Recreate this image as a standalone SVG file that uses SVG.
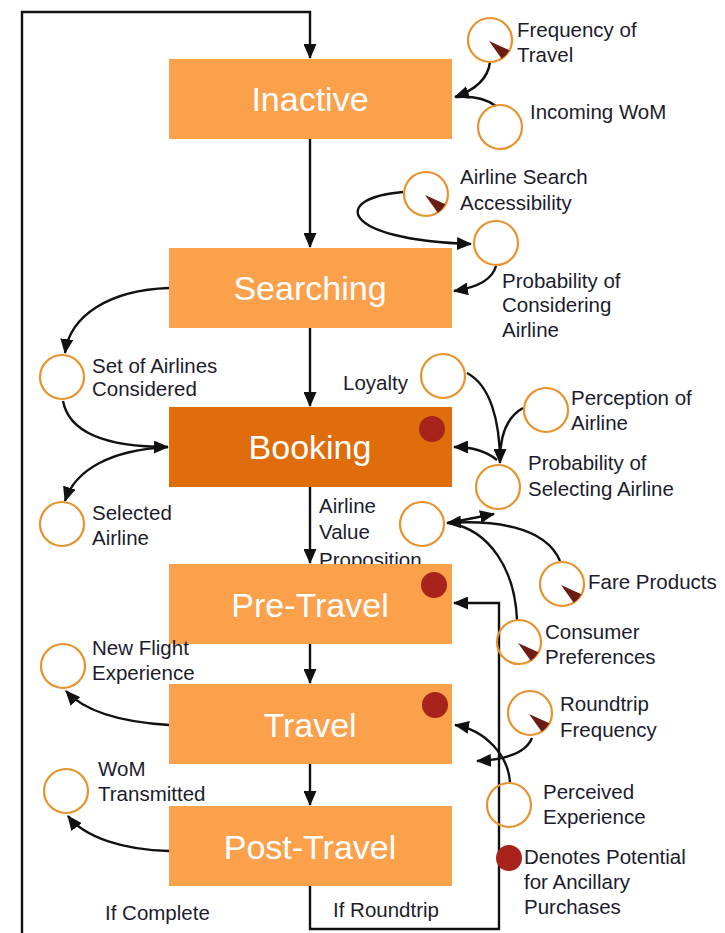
<svg xmlns="http://www.w3.org/2000/svg" width="725" height="933" viewBox="0 0 725 933">
<style>
.box{fill:#FBA04B}
.bk{fill:#E06D0B}
.bt{font-family:"Liberation Sans",Arial,sans-serif;font-size:34px;fill:#fff;text-anchor:middle}
.lb{font-family:"Liberation Sans",Arial,sans-serif;font-size:20.5px;fill:#1c1c2c}
.c{fill:none;stroke:#E8922E;stroke-width:2.2}
.dot{fill:#A8231C}
.w{fill:#6B1D14}
.ln{fill:none;stroke:#111;stroke-width:2.4}
</style>
<defs>
<marker id="ah" markerUnits="userSpaceOnUse" markerWidth="15" markerHeight="13" refX="14" refY="6.5" orient="auto">
<path d="M0,0 L15,6.5 L0,13 Z" fill="#111"/>
</marker>
<path id="wedge" d="M-1,1 L19.4,10.3 A22,22 0 0 1 11.7,18.7 Z"/>
</defs>

<g id="labels-behind">
<text class="lb" x="319" y="513">Airline</text>
<text class="lb" x="319" y="539">Value</text>
<text class="lb" x="319" y="567">Proposition</text>
</g>

<g id="connectors">
<path class="ln" d="M22,933 V12 H310 V58" marker-end="url(#ah)"/>
<path class="ln" d="M310,886 V929 H499 V603 H454" marker-end="url(#ah)"/>
<path class="ln" d="M310,139 V247" marker-end="url(#ah)"/>
<path class="ln" d="M310,328 V406" marker-end="url(#ah)"/>
<path class="ln" d="M310,487 V563" marker-end="url(#ah)"/>
<path class="ln" d="M310,644 V683" marker-end="url(#ah)"/>
<path class="ln" d="M310,764 V805" marker-end="url(#ah)"/>
<path class="ln" d="M490,62 C488,80 472,91 455,97" marker-end="url(#ah)"/>
<path class="ln" d="M496,106 C485,98 470,96 456,97"/>
<path class="ln" d="M403,192 C330,198 340,240 471,244" marker-end="url(#ah)"/>
<path class="ln" d="M496,266 C492,281 474,288 454,291" marker-end="url(#ah)"/>
<path class="ln" d="M169,288 C110,290 70,315 65,353" marker-end="url(#ah)"/>
<path class="ln" d="M63,401 C70,438 120,447 168,447" marker-end="url(#ah)"/>
<path class="ln" d="M168,447 C110,450 75,470 65,501" marker-end="url(#ah)"/>
<path class="ln" d="M467,373 C490,385 500,420 500,463" marker-end="url(#ah)"/>
<path class="ln" d="M523,408 C505,418 500,440 500,460"/>
<path class="ln" d="M497,460 C485,450 470,447 454,447" marker-end="url(#ah)"/>
<path class="ln" d="M448,523 L494,514" marker-end="url(#ah)"/>
<path class="ln" d="M560,561 C545,525 490,520 447,523" marker-end="url(#ah)"/>
<path class="ln" d="M517,620 C515,570 490,530 449,523"/>
<path class="ln" d="M532,738 C525,755 500,760 477,761" marker-end="url(#ah)"/>
<path class="ln" d="M510,782 C508,755 485,730 455,725" marker-end="url(#ah)"/>
<path class="ln" d="M169,725 C120,722 85,712 66,691" marker-end="url(#ah)"/>
<path class="ln" d="M169,851 C125,850 85,838 68,816" marker-end="url(#ah)"/>
</g>

<g id="inactive"><rect class="box" x="169" y="59" width="283" height="80"/><text class="bt" x="310" y="111">Inactive</text></g>
<g id="searching"><rect class="box" x="169" y="248" width="283" height="80"/><text class="bt" x="310" y="300">Searching</text></g>
<g id="booking"><rect class="bk" x="169" y="407" width="283" height="80"/><text class="bt" x="310" y="459">Booking</text><circle class="dot" cx="432" cy="429" r="13"/></g>
<g id="pre-travel"><rect class="box" x="169" y="564" width="283" height="80"/><text class="bt" x="310" y="617">Pre-Travel</text><circle class="dot" cx="434" cy="585" r="13"/></g>
<g id="travel"><rect class="box" x="169" y="684" width="283" height="80"/><text class="bt" x="310" y="737">Travel</text><circle class="dot" cx="435" cy="705" r="13"/></g>
<g id="post-travel"><rect class="box" x="169" y="806" width="283" height="80"/><text class="bt" x="310" y="859">Post-Travel</text></g>

<g id="frequency-of-travel"><circle class="c" cx="490" cy="40" r="22"/><use href="#wedge" class="w" x="490" y="40"/><text class="lb" x="517" y="37">Frequency of</text><text class="lb" x="517" y="62">Travel</text></g>
<g id="incoming-wom"><circle class="c" cx="500" cy="127" r="22"/><text class="lb" x="530" y="119">Incoming WoM</text></g>
<g id="airline-search-accessibility"><circle class="c" cx="426" cy="194" r="22"/><use href="#wedge" class="w" x="426" y="194"/><text class="lb" x="460" y="184">Airline Search</text><text class="lb" x="460" y="210">Accessibility</text></g>
<g id="probability-considering"><circle class="c" cx="496" cy="243" r="22"/><text class="lb" x="502" y="288">Probability of</text><text class="lb" x="502" y="312">Considering</text><text class="lb" x="502" y="337">Airline</text></g>
<g id="set-of-airlines"><circle class="c" cx="62" cy="377" r="22"/><text class="lb" x="92" y="373">Set of Airlines</text><text class="lb" x="92" y="396">Considered</text></g>
<g id="selected-airline"><circle class="c" cx="62" cy="524" r="22"/><text class="lb" x="92" y="520">Selected</text><text class="lb" x="92" y="545">Airline</text></g>
<g id="loyalty"><circle class="c" cx="443" cy="376" r="22"/><text class="lb" x="408" y="390" text-anchor="end">Loyalty</text></g>
<g id="perception-of-airline"><circle class="c" cx="546" cy="410" r="22"/><text class="lb" x="571" y="405">Perception of</text><text class="lb" x="571" y="430">Airline</text></g>
<g id="probability-selecting"><circle class="c" cx="498" cy="487" r="22"/><text class="lb" x="528" y="470">Probability of</text><text class="lb" x="528" y="496">Selecting Airline</text></g>
<g id="airline-value-proposition"><circle class="c" cx="422" cy="524" r="22"/></g>
<g id="fare-products"><circle class="c" cx="562" cy="584" r="22"/><use href="#wedge" class="w" x="562" y="584"/><text class="lb" x="588" y="589">Fare Products</text></g>
<g id="consumer-preferences"><circle class="c" cx="519" cy="642" r="22"/><use href="#wedge" class="w" x="519" y="642"/><text class="lb" x="545" y="639">Consumer</text><text class="lb" x="545" y="664">Preferences</text></g>
<g id="roundtrip-frequency"><circle class="c" cx="530" cy="713" r="22"/><use href="#wedge" class="w" x="530" y="713"/><text class="lb" x="560" y="711">Roundtrip</text><text class="lb" x="560" y="737">Frequency</text></g>
<g id="perceived-experience"><circle class="c" cx="509" cy="805" r="22"/><text class="lb" x="543" y="799">Perceived</text><text class="lb" x="543" y="824">Experience</text></g>
<g id="legend"><circle class="dot" cx="509" cy="858" r="13"/><text class="lb" x="524" y="864">Denotes Potential</text><text class="lb" x="524" y="889">for Ancillary</text><text class="lb" x="524" y="914">Purchases</text></g>
<g id="new-flight-experience"><circle class="c" cx="63" cy="666" r="22"/><text class="lb" x="92" y="655">New Flight</text><text class="lb" x="92" y="680">Experience</text></g>
<g id="wom-transmitted"><circle class="c" cx="66" cy="791" r="22"/><text class="lb" x="98" y="776">WoM</text><text class="lb" x="98" y="801">Transmitted</text></g>
<g id="edge-labels"><text class="lb" x="105" y="920">If Complete</text><text class="lb" x="333" y="917">If Roundtrip</text></g>
</svg>
